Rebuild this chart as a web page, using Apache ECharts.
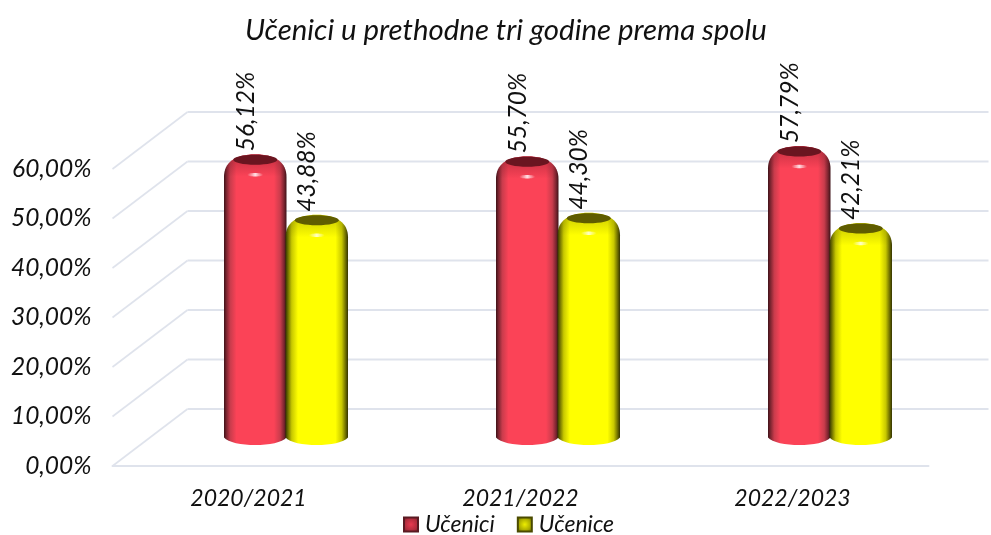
<!DOCTYPE html>
<html>
<head>
<meta charset="utf-8">
<style>html,body{margin:0;padding:0;background:#fff}#c{width:991px;height:535px}</style>
<script src="https://cdn.jsdelivr.net/npm/echarts@6/dist/echarts.min.js"></script>
</head>
<body>
<div id="c"></div>
<script>
const titleText = 'Učenici u prethodne tri godine prema spolu';
const categories = ['2020/2021', '2021/2022', '2022/2023'];
const ucenici = [56.12, 55.70, 57.79];
const ucenice = [43.88, 44.30, 42.21];
const valueTicks = [0, 10, 20, 30, 40, 50, 60];

const FONT = 'Lato, "Open Sans", sans-serif';
const GRID_COLOR = '#dfe3ec';
const TEXT_COLOR = '#111';
const DEPTH_X = 75, DEPTH_Y = 57;
const BAR_W = 62.5;

const chart = echarts.init(document.getElementById('c'), null, {renderer: 'canvas'});

const fmt = v => v.toFixed(2).replace('.', ',') + '%';

function wallItem(params, api) {
  const cs = params.coordSys;
  const p = api.coord([0, api.value(0)]);
  const y = p[1];
  const x0 = cs.x, x1 = cs.x + DEPTH_X;
  return {
    type: 'group',
    children: [
      {type: 'line', shape: {x1: x0, y1: y, x2: x1, y2: y - DEPTH_Y},
       style: {stroke: GRID_COLOR, lineWidth: 1.6}},
      {type: 'line', shape: {x1: x1, y1: y - DEPTH_Y, x2: cs.x + cs.width + 60, y2: y - DEPTH_Y},
       style: {stroke: GRID_COLOR, lineWidth: 2}}
    ]
  };
}

function cylinderItem(side, pal) {
  return function (params, api) {
    const cat = api.value(0), val = api.value(1);
    const top = api.coord([cat, val]);
    const base = api.coord([cat, 0]);
    const cx = top[0] + DEPTH_X / 2 + side * (BAR_W / 2 - 0.5);
    const yt = top[1] - DEPTH_Y / 2;
    const yb = base[1] - DEPTH_Y / 2;
    const L = cx - BAR_W / 2, R = cx + BAR_W / 2;
    const body = new echarts.graphic.LinearGradient(0, 0, 1, 0, [
      {offset: 0, color: pal.edge},
      {offset: 0.04, color: pal.mid0},
      {offset: 0.1, color: pal.mid},
      {offset: 0.2, color: pal.main},
      {offset: 0.8, color: pal.main},
      {offset: 0.9, color: pal.mid},
      {offset: 0.96, color: pal.mid0},
      {offset: 1, color: pal.edge}
    ]);
    const shade = new echarts.graphic.LinearGradient(0, 0, 0, 1, [
      {offset: 0, color: pal.shade},
      {offset: 1, color: pal.shade0}
    ]);
    const glint = new echarts.graphic.LinearGradient(0, 0, 1, 0, [
      {offset: 0, color: pal.glint0},
      {offset: 0.5, color: pal.glint},
      {offset: 1, color: pal.glint0}
    ]);
    const topEdge = 'M' + L + ' ' + (yt + 17) +
      ' C' + L + ' ' + (yt + 3) + ' ' + (L + 11) + ' ' + (yt - 5.5) + ' ' + cx + ' ' + (yt - 5.5) +
      ' C' + (R - 11) + ' ' + (yt - 5.5) + ' ' + R + ' ' + (yt + 3) + ' ' + R + ' ' + (yt + 17);
    const path = 'M' + L + ' ' + yb + ' L' + L + ' ' + (yt + 17) +
      topEdge.replace(/^M\S+ \S+/, '') +
      ' L' + R + ' ' + yb +
      ' C' + (R - 8) + ' ' + (yb + 10) + ' ' + (L + 8) + ' ' + (yb + 10) + ' ' + L + ' ' + yb + ' Z';
    return {
      type: 'group',
      children: [
        {type: 'path', shape: {pathData: path, layout: 'cover', x: L, y: yt - 5.5, width: BAR_W, height: yb + 7.5 - yt + 5.5},
         style: {fill: body}},
        {type: 'path', shape: {pathData: topEdge + ' Z', layout: 'cover', x: L, y: yt - 5.5, width: BAR_W, height: 22.5},
         style: {fill: shade}},
        {type: 'ellipse', shape: {cx: cx, cy: yt, rx: 22, ry: 5}, style: {fill: pal.cap}},
        {type: 'ellipse', shape: {cx: cx, cy: yt + 15, rx: 8, ry: 1.7}, style: {fill: glint}},
        {type: 'text', x: cx - 9.5, y: yt - 8.5, rotation: Math.PI / 2,
         style: {text: fmt(val), x: 0, y: 0, align: 'left', verticalAlign: 'middle',
                 fill: TEXT_COLOR, font: 'italic 24.5px ' + FONT}}
      ]
    };
  };
}

const redPal = {edge: '#3e1218', mid0: '#7c2530', mid: '#c93c4c', main: '#fb4357',
  shade: 'rgba(110,15,30,0.42)', shade0: 'rgba(110,15,30,0)', cap: '#6a1520',
  glint: 'rgba(255,225,230,1)', glint0: 'rgba(255,225,230,0)'};
const yelPal = {edge: '#333300', mid0: '#707000', mid: '#c8c800', main: '#ffff00',
  shade: 'rgba(110,110,0,0.4)', shade0: 'rgba(110,110,0,0)', cap: '#5f5c00',
  glint: 'rgba(255,255,200,1)', glint0: 'rgba(255,255,200,0)'};

const toPairs = arr => arr.map((v, i) => [i, v]);

chart.setOption({
  animation: false,
  backgroundColor: '#fff',
  title: {
    text: titleText, left: 240, top: 11,
    textStyle: {fontFamily: FONT, fontStyle: 'italic', fontWeight: 'normal', fontSize: 29.4, color: TEXT_COLOR}
  },
  legend: {
    left: 403, top: 513, itemWidth: 14, itemHeight: 14, itemGap: 22, icon: 'rect',
    data: ['Učenici', 'Učenice'],
    textStyle: {fontFamily: FONT, fontStyle: 'italic', fontSize: 23, color: TEXT_COLOR, padding: [0, 0, 0, 2]},
    padding: 0
  },
  grid: {left: 112.5, top: 169, width: 816, height: 297, containLabel: false},
  xAxis: {
    type: 'category', data: categories,
    axisLine: {show: true, lineStyle: {color: GRID_COLOR, width: 2}},
    axisTick: {show: false},
    axisLabel: {fontFamily: FONT, fontStyle: 'italic', fontSize: 23, color: TEXT_COLOR, margin: 21},
    splitLine: {show: false}
  },
  yAxis: {
    type: 'value', min: 0, max: 60, interval: 10,
    axisLine: {show: false}, axisTick: {show: false}, splitLine: {show: false},
    axisLabel: {fontFamily: FONT, fontStyle: 'italic', fontSize: 24.5, color: TEXT_COLOR, margin: 21, formatter: fmt}
  },
  series: [
    {type: 'custom', name: 'wall', coordinateSystem: 'cartesian2d', silent: true, z: 1, clip: false,
     renderItem: wallItem, encode: {y: 0}, data: valueTicks.map(v => [v])},
    {type: 'custom', name: 'Učenici', coordinateSystem: 'cartesian2d', z: 2, clip: false,
     renderItem: cylinderItem(-1, redPal), encode: {x: 0, y: 1}, data: toPairs(ucenici),
     itemStyle: {color: new echarts.graphic.RadialGradient(0.5, 0.5, 0.7, [
       {offset: 0, color: '#e83a50'}, {offset: 0.55, color: '#b02c3c'}, {offset: 1, color: '#5a1a22'}]),
       borderColor: '#5a1a22', borderWidth: 1}},
    {type: 'custom', name: 'Učenice', coordinateSystem: 'cartesian2d', z: 3, clip: false,
     renderItem: cylinderItem(1, yelPal), encode: {x: 0, y: 1}, data: toPairs(ucenice),
     itemStyle: {color: new echarts.graphic.RadialGradient(0.5, 0.5, 0.7, [
       {offset: 0, color: '#eeee00'}, {offset: 0.55, color: '#a8a800'}, {offset: 1, color: '#4a4a00'}]),
       borderColor: '#4a4a00', borderWidth: 1}}
  ]
});
</script>
</body>
</html>
